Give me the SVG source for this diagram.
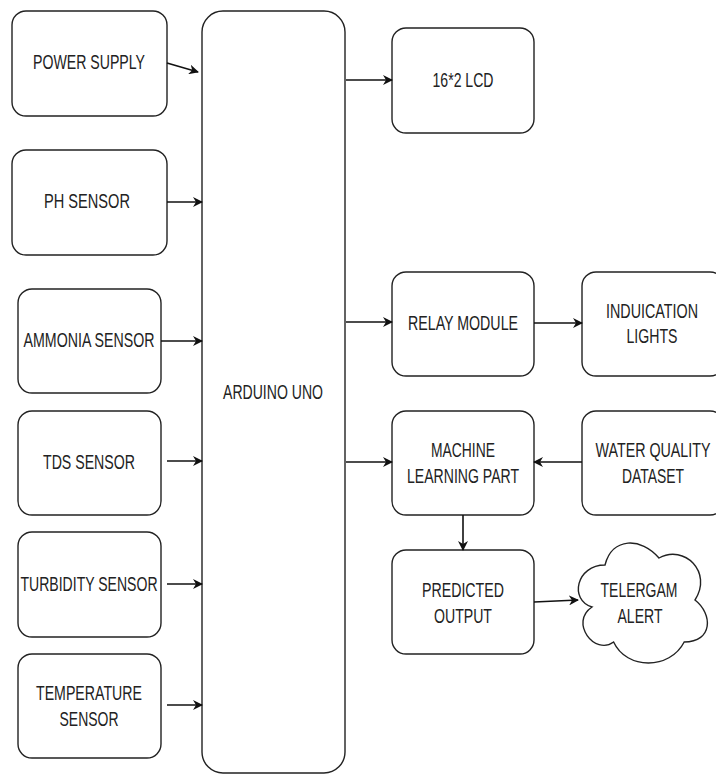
<svg xmlns="http://www.w3.org/2000/svg" width="716" height="774" viewBox="0 0 716 774">
<defs>
<marker id="arr" viewBox="0 0 10 10" refX="9" refY="5" markerWidth="10" markerHeight="10" markerUnits="userSpaceOnUse" orient="auto">
<path d="M0,0 L10,5 L0,10 L3,5 Z" fill="#111"/>
</marker>
</defs>
<style>
.box{fill:#fff;stroke:#222;stroke-width:1.4}
.t{font-family:"Liberation Sans",Arial,sans-serif;font-size:20px;fill:#222;text-anchor:middle}
.c{fill:none;stroke:#111;stroke-width:1.6;marker-end:url(#arr)}
</style>
<rect width="716" height="774" fill="#fff"/>
<g id="power-supply"><rect class="box" x="12" y="11" width="155" height="105" rx="14"/><text class="t" transform="translate(89,69) scale(0.75,1)" textLength="149.3" lengthAdjust="spacingAndGlyphs">POWER SUPPLY</text></g>
<g id="ph-sensor"><rect class="box" x="12" y="150" width="155" height="105" rx="14"/><text class="t" transform="translate(87,208) scale(0.75,1)" textLength="114.7" lengthAdjust="spacingAndGlyphs">PH SENSOR</text></g>
<g id="ammonia-sensor"><rect class="box" x="18" y="289" width="143" height="104" rx="14"/><text class="t" transform="translate(89,347) scale(0.75,1)" textLength="174.7" lengthAdjust="spacingAndGlyphs">AMMONIA SENSOR</text></g>
<g id="tds-sensor"><rect class="box" x="18" y="411" width="143" height="104" rx="14"/><text class="t" transform="translate(89,469) scale(0.75,1)" textLength="122.7" lengthAdjust="spacingAndGlyphs">TDS SENSOR</text></g>
<g id="turbidity-sensor"><rect class="box" x="18" y="532" width="143" height="105" rx="14"/><text class="t" transform="translate(89,591) scale(0.75,1)" textLength="182.7" lengthAdjust="spacingAndGlyphs">TURBIDITY SENSOR</text></g>
<g id="temperature-sensor"><rect class="box" x="18" y="654" width="143" height="104" rx="14"/><text class="t" transform="translate(89,700) scale(0.75,1)" textLength="141.3" lengthAdjust="spacingAndGlyphs">TEMPERATURE</text><text class="t" transform="translate(89,726) scale(0.75,1)" textLength="78.7" lengthAdjust="spacingAndGlyphs">SENSOR</text></g>
<g id="arduino-uno"><rect class="box" x="202" y="11" width="143" height="762" rx="21"/><text class="t" transform="translate(273,399) scale(0.75,1)" textLength="133.3" lengthAdjust="spacingAndGlyphs">ARDUINO UNO</text></g>
<g id="lcd"><rect class="box" x="392" y="28" width="142" height="105" rx="14"/><text class="t" transform="translate(463,87) scale(0.75,1)" textLength="81.3" lengthAdjust="spacingAndGlyphs">16*2 LCD</text></g>
<g id="relay-module"><rect class="box" x="392" y="272" width="142" height="104" rx="14"/><text class="t" transform="translate(463,330) scale(0.75,1)" textLength="146.7" lengthAdjust="spacingAndGlyphs">RELAY MODULE</text></g>
<g id="indication-lights"><rect class="box" x="582" y="272" width="142" height="104" rx="14"/><text class="t" transform="translate(652,318) scale(0.75,1)" textLength="122.7" lengthAdjust="spacingAndGlyphs">INDUICATION</text><text class="t" transform="translate(652,343) scale(0.75,1)" textLength="68" lengthAdjust="spacingAndGlyphs">LIGHTS</text></g>
<g id="machine-learning"><rect class="box" x="392" y="411" width="142" height="104" rx="14"/><text class="t" transform="translate(463,457) scale(0.75,1)" textLength="85.3" lengthAdjust="spacingAndGlyphs">MACHINE</text><text class="t" transform="translate(463,483) scale(0.75,1)" textLength="149.3" lengthAdjust="spacingAndGlyphs">LEARNING PART</text></g>
<g id="water-quality-dataset"><rect class="box" x="582" y="411" width="142" height="104" rx="14"/><text class="t" transform="translate(653,457) scale(0.75,1)" textLength="153.3" lengthAdjust="spacingAndGlyphs">WATER QUALITY</text><text class="t" transform="translate(653,483) scale(0.75,1)" textLength="82.7" lengthAdjust="spacingAndGlyphs">DATASET</text></g>
<g id="predicted-output"><rect class="box" x="392" y="550" width="142" height="104" rx="14"/><text class="t" transform="translate(463,597) scale(0.75,1)" textLength="109.3" lengthAdjust="spacingAndGlyphs">PREDICTED</text><text class="t" transform="translate(463,623) scale(0.75,1)" textLength="77.3" lengthAdjust="spacingAndGlyphs">OUTPUT</text></g>
<g id="telegram-alert"><path class="box" d="M 605,565 C 576.2,565 569,600 592,607 C 569,622.4 594.9,656 613.6,642 C 626.6,670 669.8,670 684.2,642 C 713,642 713,614 695,600 C 713,572 684.2,544 659,558 C 641,537 612.2,537 605,565 Z"/><text class="t" transform="translate(639,597) scale(0.75,1)" textLength="102.7" lengthAdjust="spacingAndGlyphs">TELERGAM</text><text class="t" transform="translate(640,623) scale(0.75,1)" textLength="60" lengthAdjust="spacingAndGlyphs">ALERT</text></g>
<g id="connectors">
<path class="c" d="M167,63 L198,72"/>
<path class="c" d="M167,202 L202,202"/>
<path class="c" d="M161,341 L202,341"/>
<path class="c" d="M167,461 L202,461"/>
<path class="c" d="M167,584 L202,584"/>
<path class="c" d="M167,705 L202,705"/>
<path class="c" d="M346,80 L392,80"/>
<path class="c" d="M346,322 L392,322"/>
<path class="c" d="M534,323 L582,323"/>
<path class="c" d="M346,462 L392,462"/>
<path class="c" d="M582,462 L534,462"/>
<path class="c" d="M463,515 L463,550"/>
<path class="c" d="M534,602 L578,600"/>
</g>
</svg>
